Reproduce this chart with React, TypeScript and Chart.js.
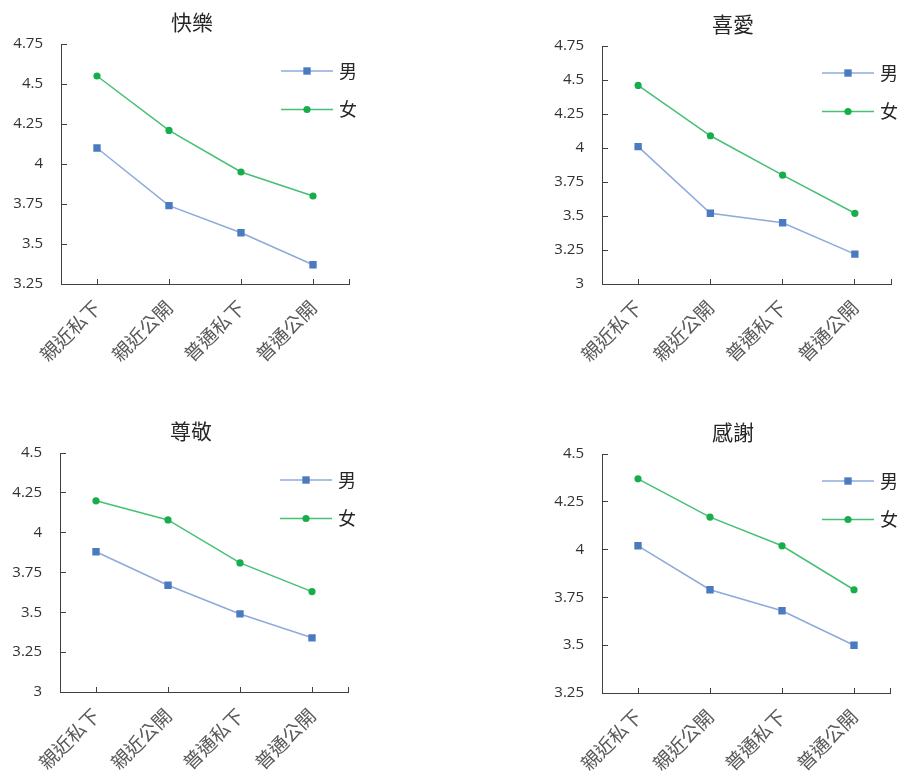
import React, { useEffect, useRef } from "react";
import { Chart, registerables } from "chart.js";

Chart.register(...registerables);

const categories = ["親近私下", "親近公開", "普通私下", "普通公開"];
const seriesNames = ["男", "女"];

const titles = ["快樂", "喜愛", "尊敬", "感謝"];

const happyMale = [4.1, 3.74, 3.57, 3.37];
const happyFemale = [4.55, 4.21, 3.95, 3.8];
const likeMale = [4.01, 3.52, 3.45, 3.22];
const likeFemale = [4.46, 4.09, 3.8, 3.52];
const respectMale = [3.88, 3.67, 3.49, 3.34];
const respectFemale = [4.2, 4.08, 3.81, 3.63];
const thanksMale = [4.02, 3.79, 3.68, 3.5];
const thanksFemale = [4.37, 4.17, 4.02, 3.79];

const happyTicks = [3.25, 3.5, 3.75, 4, 4.25, 4.5, 4.75];
const likeTicks = [3, 3.25, 3.5, 3.75, 4, 4.25, 4.5, 4.75];
const respectTicks = [3, 3.25, 3.5, 3.75, 4, 4.25, 4.5];
const thanksTicks = [3.25, 3.5, 3.75, 4, 4.25, 4.5];

const CJK = '"Noto Sans CJK TC", "Noto Sans CJK SC", sans-serif';
const NUM = '"Open Sans", "Noto Sans", sans-serif';

const MALE_LINE = "#8eaadb";
const MALE_MARK = "#4a7bc0";
const FEMALE_LINE = "#45c074";
const FEMALE_MARK = "#17ad4b";

const YW = 50;
const XH = 80;

type Panel = {
  title: string;
  male: number[];
  female: number[];
  ticks: number[];
  cell: { x: number; y: number; w: number; h: number };
  plot: { l: number; t: number; r: number; b: number };
};

const panels: Panel[] = [
  {
    title: titles[0],
    male: happyMale,
    female: happyFemale,
    ticks: happyTicks,
    cell: { x: 0, y: 0, w: 450, h: 390 },
    plot: { l: 61, t: 44, r: 349, b: 284 },
  },
  {
    title: titles[1],
    male: likeMale,
    female: likeFemale,
    ticks: likeTicks,
    cell: { x: 450, y: 0, w: 449, h: 390 },
    plot: { l: 602, t: 46, r: 891, b: 284 },
  },
  {
    title: titles[2],
    male: respectMale,
    female: respectFemale,
    ticks: respectTicks,
    cell: { x: 0, y: 390, w: 450, h: 384 },
    plot: { l: 60, t: 453, r: 348, b: 692 },
  },
  {
    title: titles[3],
    male: thanksMale,
    female: thanksFemale,
    ticks: thanksTicks,
    cell: { x: 450, y: 390, w: 449, h: 384 },
    plot: { l: 602, t: 454, r: 890, b: 693 },
  },
];

const overlayPlugin = {
  id: "overlay",
  afterDraw(chart: any, _args: any, opts: any) {
    const { ctx, chartArea: ca } = chart;
    ctx.save();
    // title
    ctx.font = `21px ${CJK}`;
    ctx.fillStyle = "#262626";
    ctx.textAlign = "center";
    ctx.textBaseline = "middle";
    ctx.fillText(opts.title, ca.left + 131, ca.top - 22);
    // end tick on x axis
    ctx.strokeStyle = "#404040";
    ctx.lineWidth = 1;
    const ex = Math.round(ca.right) + 0.5;
    ctx.beginPath();
    ctx.moveTo(ex, ca.bottom);
    ctx.lineTo(ex, ca.bottom - 5);
    ctx.stroke();
    // legend
    chart.data.datasets.forEach((ds: any, i: number) => {
      const y = ca.top + 27 + i * 38.5;
      const x0 = ca.left + 220;
      const x1 = ca.left + 272;
      const xm = (x0 + x1) / 2;
      ctx.strokeStyle = ds.borderColor;
      ctx.lineWidth = ds.borderWidth;
      ctx.beginPath();
      ctx.moveTo(x0, y);
      ctx.lineTo(x1, y);
      ctx.stroke();
      ctx.fillStyle = ds.pointBackgroundColor;
      if (ds.pointStyle === "rect") {
        const s = ds.pointRadius * Math.SQRT1_2;
        ctx.fillRect(xm - s, y - s, 2 * s, 2 * s);
      } else {
        ctx.beginPath();
        ctx.arc(xm, y, ds.pointRadius, 0, Math.PI * 2);
        ctx.fill();
      }
      ctx.font = `18px ${CJK}`;
      ctx.fillStyle = "#262626";
      ctx.textAlign = "left";
      ctx.textBaseline = "middle";
      ctx.fillText(ds.label, x1 + 6, y);
    });
    ctx.restore();
  },
};

function PanelChart({ p }: { p: Panel }) {
  const ref = useRef<HTMLCanvasElement | null>(null);
  useEffect(() => {
    if (!ref.current) return;
    const l = p.plot.l - p.cell.x;
    const t = p.plot.t - p.cell.y;
    const r = p.plot.r - p.cell.x;
    const b = p.plot.b - p.cell.y;
    const chart = new Chart(ref.current, {
      type: "line",
      data: {
        labels: categories,
        datasets: [
          {
            label: seriesNames[0],
            data: p.male,
            borderColor: MALE_LINE,
            backgroundColor: MALE_MARK,
            borderWidth: 1.5,
            pointStyle: "rect",
            pointRadius: 5.2,
            pointBackgroundColor: MALE_MARK,
            pointBorderColor: MALE_MARK,
            pointBorderWidth: 0,
            tension: 0,
          },
          {
            label: seriesNames[1],
            data: p.female,
            borderColor: FEMALE_LINE,
            backgroundColor: FEMALE_MARK,
            borderWidth: 1.5,
            pointStyle: "circle",
            pointRadius: 3.6,
            pointBackgroundColor: FEMALE_MARK,
            pointBorderColor: FEMALE_MARK,
            pointBorderWidth: 0,
            tension: 0,
          },
        ],
      },
      options: {
        animation: false,
        responsive: false,
        devicePixelRatio: 1,
        layout: {
          padding: {
            left: l - YW,
            top: t,
            right: p.cell.w - r,
            bottom: Math.max(0, p.cell.h - b - XH),
          },
        },
        plugins: {
          legend: { display: false },
          title: { display: false },
          tooltip: { enabled: false },
          overlay: { title: p.title },
        } as any,
        scales: {
          x: {
            type: "category",
            offset: true,
            grid: {
              drawOnChartArea: false,
              drawTicks: true,
              tickLength: -5,
              color: "#404040",
              tickColor: "#404040",
              offset: false,
            },
            border: { display: true, color: "#404040", width: 1 },
            ticks: {
              minRotation: 45,
              maxRotation: 45,
              autoSkip: false,
              padding: 17,
              color: "#595959",
              font: { family: CJK, size: 19 },
            },
            afterFit: (s: any) => {
              s.height = XH;
            },
          },
          y: {
            type: "linear",
            min: p.ticks[0],
            max: p.ticks[p.ticks.length - 1],
            grid: {
              drawOnChartArea: false,
              drawTicks: true,
              tickLength: -6,
              color: "#404040",
              tickColor: "#404040",
            },
            border: { display: true, color: "#404040", width: 1 },
            ticks: {
              padding: 24,
              color: "#333333",
              font: { family: NUM, size: 15 },
              callback: (v: any) => String(+Number(v).toFixed(2)),
            },
            afterBuildTicks: (s: any) => {
              s.ticks = p.ticks.map((v) => ({ value: v }));
            },
            afterFit: (s: any) => {
              s.width = YW;
            },
          },
        },
      } as any,
      plugins: [overlayPlugin],
    });
    return () => chart.destroy();
  }, [p]);
  return (
    <canvas
      ref={ref}
      width={p.cell.w}
      height={p.cell.h}
      style={{
        position: "absolute",
        left: p.cell.x,
        top: p.cell.y,
        width: p.cell.w,
        height: p.cell.h,
      }}
    />
  );
}

export default function App() {
  return (
    <div
      style={{
        position: "fixed",
        left: 0,
        top: 0,
        width: 899,
        height: 774,
        background: "#ffffff",
        overflow: "hidden",
      }}
    >
      {panels.map((p, i) => (
        <PanelChart key={i} p={p} />
      ))}
    </div>
  );
}
